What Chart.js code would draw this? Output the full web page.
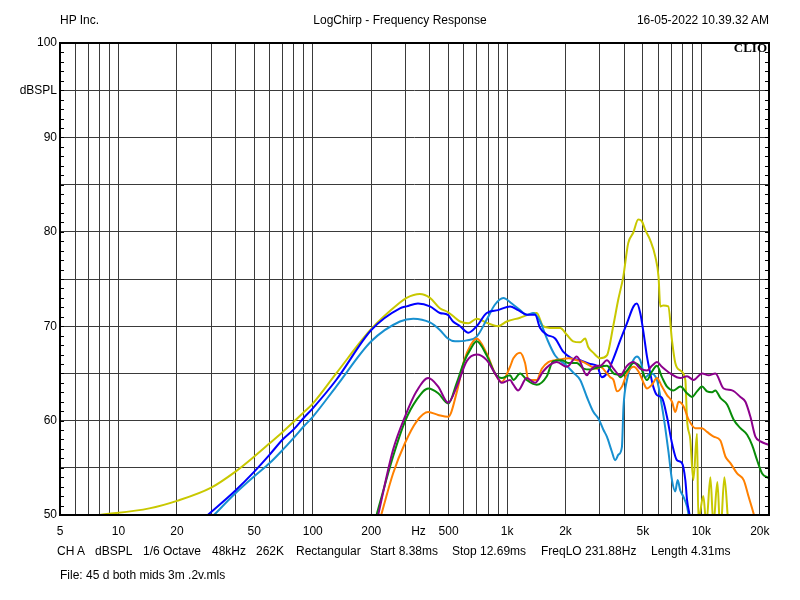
<!DOCTYPE html>
<html>
<head>
<meta charset="utf-8">
<script src="https://cdn.jsdelivr.net/npm/chart.js@4.4.1/dist/chart.umd.min.js"></script>
<style>
html,body{margin:0;padding:0;background:#fff;}
#wrap{position:relative;width:800px;height:600px;overflow:hidden;}
canvas{position:absolute;left:0;top:0;}
.t{position:absolute;font-family:"Liberation Sans",Arial,sans-serif;font-size:12px;line-height:14px;color:#000;white-space:pre;}
.clio{position:absolute;font-family:"Liberation Serif","Times New Roman",serif;font-weight:bold;font-size:13px;line-height:14px;color:#000;}
</style>
</head>
<body>
<div id="wrap">
<canvas id="c" width="800" height="600"></canvas>
<div class="t" style="left:60px;top:13px">HP Inc.</div>
<div class="t" style="left:0;width:800px;text-align:center;top:13px">LogChirp - Frequency Response</div>
<div class="t" style="right:31px;top:13px">16-05-2022 10.39.32 AM</div>
<div class="clio" style="right:33px;top:41px">CLIO</div>
<div class="t" style="left:57px;top:544px">CH A</div>
<div class="t" style="left:95px;top:544px">dBSPL</div>
<div class="t" style="left:143px;top:544px">1/6 Octave</div>
<div class="t" style="left:212px;top:544px">48kHz</div>
<div class="t" style="left:256px;top:544px">262K</div>
<div class="t" style="left:296px;top:544px">Rectangular</div>
<div class="t" style="left:370px;top:544px">Start 8.38ms</div>
<div class="t" style="left:452px;top:544px">Stop 12.69ms</div>
<div class="t" style="left:541px;top:544px">FreqLO 231.88Hz</div>
<div class="t" style="left:651px;top:544px">Length 4.31ms</div>
<div class="t" style="left:60px;top:568px">File: 45 d both mids 3m .2v.mls</div>
</div>
<script>
// ---- tick definitions ----
const xGridValues = [5,6,7,8,9,10,20,30,40,50,60,70,80,90,100,200,300,350,400,500,600,700,800,900,1000,2000,3000,4000,5000,6000,7000,8000,9000,10000,20000];
const xTickLabels = {5:'5',10:'10',20:'20',50:'50',100:'100',200:'200',350:'Hz',500:'500',1000:'1k',2000:'2k',5000:'5k',10000:'10k',20000:'20k'};
const yGridValues = [50,55,60,65,70,75,80,85,90,95,100];
const yTickLabels = {50:'50',60:'60',70:'70',80:'80',90:'90',95:'dBSPL',100:'100'};

// ---- series (frequency Hz / dBSPL) ----
const yellowFreq = [8,14.4,20,30,40,50,60,70,80,90,100,132,200,281,304,356,401,451,496,540,573,632,698,799,899,996,1167,1283,1422,1533,1727,1876,2031,2189,2379,2524,2616,2776,3016,3265,3519,3734,3962,4204,4461,4734,4947,5145,5460,5791,6024,6146,6369,6759,7063,7345,7793,8273,8441,8775,9094,9503,9651,10242,10612,11131,11536,12095,12532,13140,13779,14447];
const yellowDb   = [50,50.7,51.5,52.9,54.6,56.2,57.6,58.8,59.9,60.9,61.8,65.0,69.7,72.5,73.0,73.4,73.0,71.9,71.5,70.9,70.5,70.3,70.8,70.3,70.0,70.5,70.9,71.2,71.4,70.0,69.8,69.8,69.1,68.4,68.3,68.7,67.8,67.2,66.6,66.9,70.0,72.8,75.2,78.8,79.9,81.3,81.1,80.2,79.1,77.4,75.2,72.1,72.2,72.1,68.5,66.1,65.3,64.3,60.1,58,53.7,58.6,49.5,52,49,54,49,53.5,48,54,49,46];

const blueFreq = [28.8,40,50,60,70,80,90,100,132,200,281,304,348,401,451,496,527,573,632,698,786,899,1036,1140,1283,1394,1480,1602,1768,1944,2155,2379,2679,2900,3078,3265,3532,3823,4140,4478,4661,4848,5042,5249,5460,5657,5909,6271,6655,7063,7495,7952,8273,8441,8704,9000];
const blueDb   = [50,52.6,54.6,56.4,58.0,59.1,60.3,61.3,64.3,69.6,71.9,72.1,72.4,72.1,71.4,71.2,70.5,70.0,69.3,70.0,71.4,71.7,72.1,71.7,71.2,71.2,69.8,69.1,68.7,67.3,66.6,66.4,66.0,65.8,64.6,65.0,66.6,68.5,70.3,72.1,72.4,71.4,69.3,66.8,65.0,63.6,62.7,62.4,60.4,57.6,55.8,55.5,53.7,51.6,50.0,48];

const lightBlueFreq = [31,40,50,60,70,80,90,100,132,200,281,329,401,451,496,540,620,698,786,867,957,1058,1167,1263,1367,1480,1602,1768,2031,2189,2379,2576,2786,2956,3137,3265,3465,3603,3747,3901,3976,4140,4393,4661,4848,5145,5460,5909,6271,6524,6783,7063,7345,7549,7793,8106,8441,8603,8900];
const lightBlueDb   = [50,52.3,54.1,55.5,56.9,58.2,59.4,60.4,63.6,68.4,70.5,70.8,70.4,69.6,68.7,68.4,68.5,68.9,70.7,72.3,73.0,72.4,71.7,71.2,71.4,70.5,68.7,66.9,65.8,65.1,64.3,62.5,60.9,60.2,59.0,58.3,56.7,55.8,56.4,57.2,61.5,64.3,66.1,66.8,66.4,64.6,65.0,64.3,61.5,59.2,56.6,53.7,52.5,53.7,52.6,51.9,50.9,50.0,48];

const greenFreq = [213,259,298,342,393,442,498,551,600,650,698,786,867,939,1036,1078,1167,1263,1422,1602,1727,1914,2070,2287,2474,2679,2900,3265,3532,3747,3823,4140,4478,4848,5249,5570,5909,6271,6655,7198,7793,8441,8954,9503,10085,10700,11357,11811,12532,13569,14671,15892,17205,18258,19372,20559,21811,22679];
const greenDb   = [50,56.2,59.9,62.2,63.4,62.9,61.8,64.0,66.2,67.6,68.4,66.9,65.0,64.5,64.8,64.3,65.0,64.3,63.8,64.7,66.3,66.4,66.1,66.1,65.5,65.4,65.6,65.8,65.0,64.8,64.6,65.3,66.1,65.7,64.3,65.2,65.8,64.6,63.6,63.2,63.6,62.9,62.5,63.1,63.6,63.1,63.0,63.2,62.4,61.7,60.1,59.2,58.5,57.4,55.8,54.4,54.0,53.9];

const purpleFreq = [217,259,298,342,393,442,498,551,620,698,786,867,939,1036,1078,1140,1263,1394,1533,1660,1800,2031,2287,2576,2679,2900,3016,3265,3532,3823,4140,4478,4848,5249,5570,5909,6271,6921,7793,8441,9126,10085,10908,11811,13032,14399,15892,16862,17893,18985,20148,21811,22679];
const purpleDb   = [50,56.9,60.4,63.1,64.5,63.6,61.9,63.6,66.3,67.0,66.4,65.0,64.0,64.3,63.8,63.2,64.5,64.0,65.2,65.9,66.2,65.7,66.8,64.8,65.3,65.8,65.8,66.4,65.5,64.8,65.8,66.2,65.5,65.3,65.8,66.2,65.7,65.0,64.5,64.7,64.3,65.0,64.8,65.0,63.4,63.2,62.5,62.0,60.4,58.3,57.8,57.5,57.4];

const orangeFreq = [225,259,298,342,393,442,498,551,600,650,698,786,867,939,1036,1078,1167,1238,1288,1422,1510,1632,1768,1914,2070,2287,2474,2679,2900,3016,3265,3396,3532,3677,3901,4140,4478,4751,5042,5249,5570,5909,6271,6655,7063,7345,7638,8106,8603,9313,10085,10700,11576,12532,13297,14110,15280,16527,17536,18605,19500];
const orangeDb   = [50,54.4,57.6,59.9,60.9,60.6,60.4,63.0,66.3,68.0,68.7,67.1,65.0,64.1,65.7,66.6,67.2,66.1,64.3,64.3,65.5,66.2,66.4,66.5,66.6,66.4,66.2,65.8,65.5,65.7,65.0,64.6,64.3,63.1,63.6,65.0,65.7,65.2,64.0,63.4,63.8,64.5,63.6,62.7,62.0,60.9,62.0,61.5,60.1,59.2,59.2,58.8,58.3,57.9,56.2,55.5,54.4,53.7,51.9,50.1,48.5];

function pts(f, d){ return f.map((x,i)=>({x:x, y:d[i]})); }
function ds(f, d, color){
  return {data:pts(f,d), borderColor:color, backgroundColor:color, showLine:true, borderWidth:2, pointRadius:0, cubicInterpolationMode:'monotone', fill:false};
}

const FONT = {family:'"Liberation Sans", Arial, sans-serif', size:12};

const framePlugin = {
  id:'frame',
  afterDraw(chart){
    const {ctx, chartArea:a, scales:{y}} = chart;
    ctx.save();
    ctx.strokeStyle = '#000';
    ctx.lineWidth = 1;
    for(let v=50; v<=100; v++){
      const py = Math.round(y.getPixelForValue(v)) + 0.5;
      ctx.beginPath();
      ctx.moveTo(a.left, py); ctx.lineTo(a.left+4, py);
      ctx.moveTo(a.right-4, py); ctx.lineTo(a.right, py);
      ctx.stroke();
    }
    ctx.lineWidth = 2;
    ctx.strokeRect(a.left, a.top, a.right-a.left, a.bottom-a.top);
    ctx.restore();
  }
};

new Chart(document.getElementById('c'), {
  type:'scatter',
  data:{datasets:[
    ds(purpleFreq, purpleDb, '#8c008c'),
    ds(greenFreq, greenDb, '#088c08'),
    ds(orangeFreq, orangeDb, '#ff8000'),
    ds(blueFreq, blueDb, '#0000ff'),
    ds(lightBlueFreq, lightBlueDb, '#1890d0'),
    ds(yellowFreq, yellowDb, '#c8c800')
  ]},
  options:{
    responsive:false,
    animation:false,
    events:[],
    layout:{padding:{left:0, top:43, right:31, bottom:0}},
    plugins:{legend:{display:false}, tooltip:{enabled:false}, title:{display:false}},
    scales:{
      x:{
        type:'logarithmic', min:5, max:22300,
        afterBuildTicks:(s)=>{ s.ticks = xGridValues.map(v=>({value:v})); },
        afterFit:(s)=>{ s.height = 85; },
        border:{display:false},
        grid:{drawTicks:false, lineWidth:1, color:(c)=> (c.tick && c.tick.value===350) ? 'rgba(0,0,0,0)' : '#3a3a3a'},
        ticks:{autoSkip:false, maxRotation:0, minRotation:0, padding:9, color:'#000', font:FONT,
          callback:(v)=> (xTickLabels[v] !== undefined ? xTickLabels[v] : '')}
      },
      y:{
        type:'linear', min:50, max:100,
        afterBuildTicks:(s)=>{ s.ticks = yGridValues.map(v=>({value:v})); },
        afterFit:(s)=>{ s.width = 60; },
        border:{display:false},
        grid:{drawTicks:false, lineWidth:1, color:'#3a3a3a'},
        ticks:{autoSkip:false, padding:3, color:'#000', font:FONT,
          callback:(v)=> (yTickLabels[v] !== undefined ? yTickLabels[v] : '')}
      }
    }
  },
  plugins:[framePlugin]
});
</script>
</body>
</html>
